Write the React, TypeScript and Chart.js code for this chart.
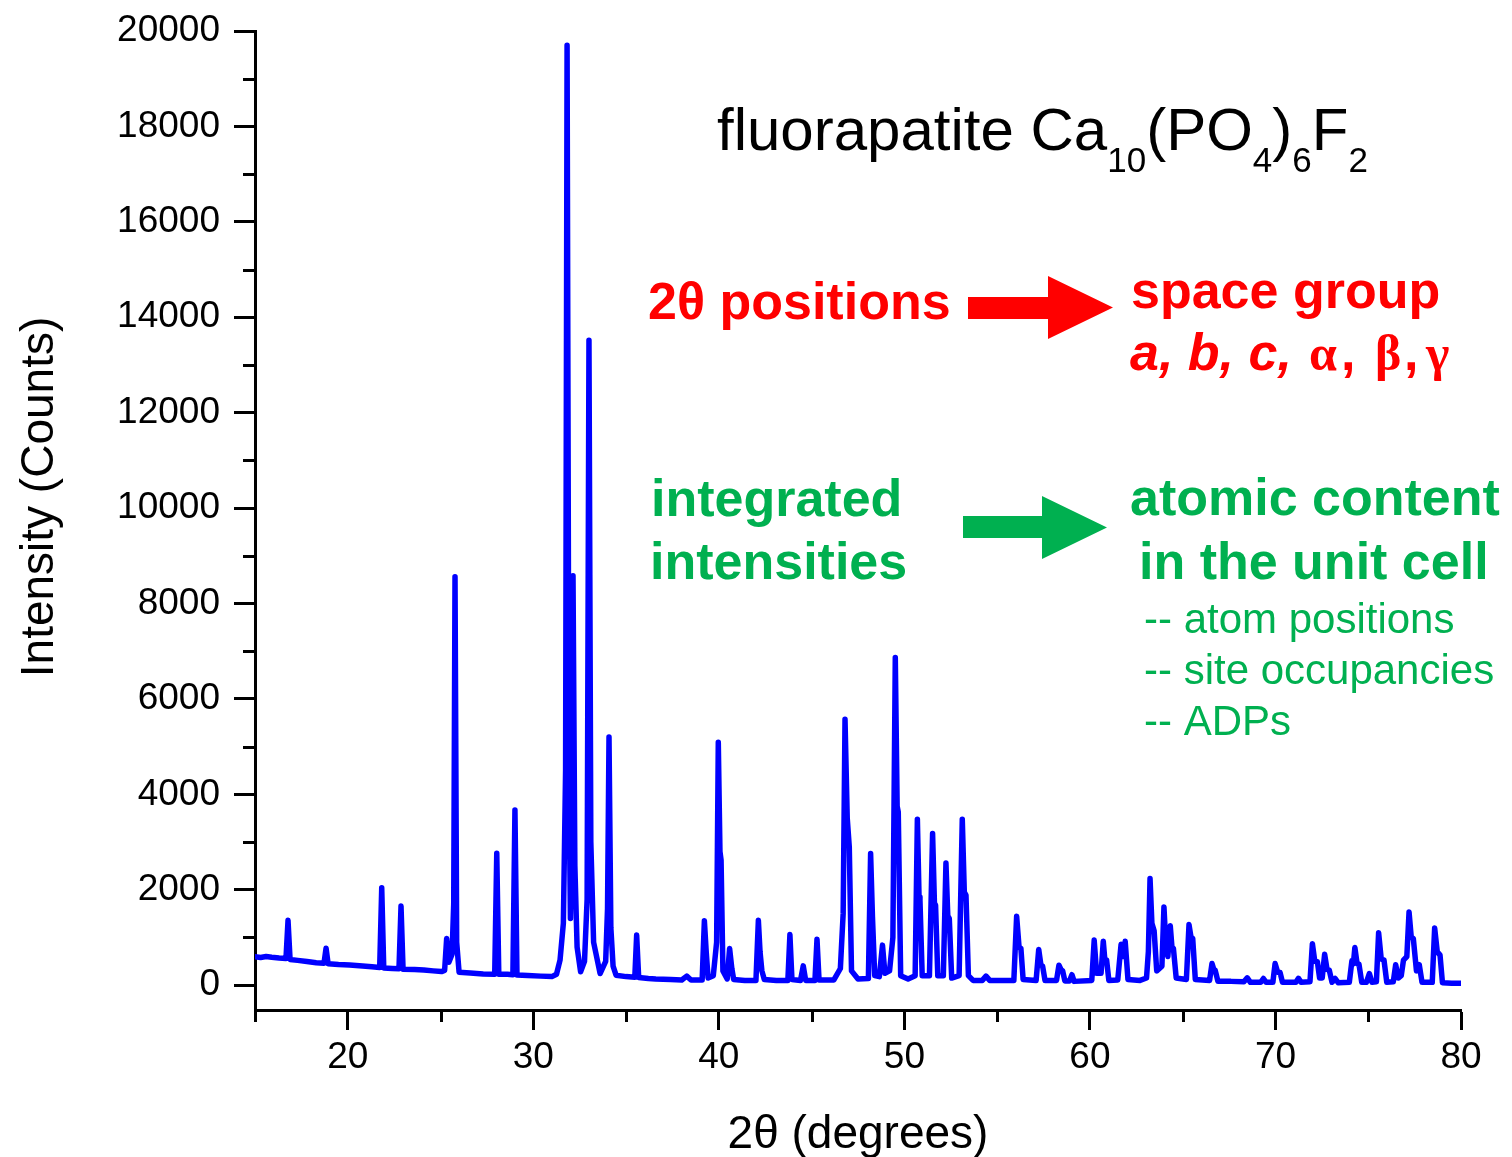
import { useEffect, useRef } from "react";
import { Chart, registerables } from "chart.js";

Chart.register(...registerables);

// Powder diffraction scan, [2θ (degrees), intensity (counts)]
const scanLowAngle: [number, number][] = [
  [15.0, 595], [15.3, 580], [15.6, 600], [15.9, 585], [16.3, 570], [16.67, 560],
  [16.78, 1360], [16.89, 540], [17.3, 520], [17.8, 495], [18.3, 470], [18.72, 460],
  [18.83, 775], [18.94, 450], [19.5, 435], [20.1, 425], [20.8, 400], [21.3, 385],
  [21.72, 370], [21.83, 2040], [21.94, 360], [22.4, 350], [22.76, 345], [22.87, 1660],
  [22.98, 335], [23.6, 330], [24.1, 320], [24.6, 300], [25.05, 285], [25.22, 310],
  [25.33, 980], [25.45, 480], [25.62, 650], [25.71, 1700], [25.78, 8560], [25.87, 900],
  [26.0, 270], [26.6, 255], [27.3, 235], [27.92, 230], [28.03, 2765], [28.14, 230],
  [28.6, 230], [28.9, 220], [29.01, 3670], [29.12, 215], [29.7, 205], [30.4, 190],
  [31.0, 180],
];

const scanMainPeaks: [number, number][] = [
  [31.25, 230], [31.44, 525], [31.62, 1300], [31.74, 4500], [31.82, 19700], [31.92, 4500],
  [32.0, 1400], [32.08, 4000], [32.14, 8580], [32.24, 2500], [32.36, 800], [32.55, 280],
  [32.76, 500], [32.9, 1800], [33.0, 13520], [33.1, 3000], [33.25, 900], [33.6, 245],
  [33.9, 500], [34.0, 1600], [34.08, 5200], [34.18, 1200], [34.3, 400], [34.46, 210],
  [35.0, 180], [35.47, 165], [35.57, 1050], [35.68, 160], [36.2, 140],
];

const scanMidAngle: [number, number][] = [
  [36.6, 130], [37.4, 120], [38.0, 110], [38.27, 190], [38.5, 110], [39.1, 110],
  [39.22, 1350], [39.32, 700], [39.42, 150], [39.7, 200], [39.88, 900], [39.97, 5090],
  [40.06, 2800], [40.12, 2620], [40.22, 300], [40.45, 130], [40.58, 770], [40.7, 350],
  [40.8, 120], [41.4, 100], [42.0, 100], [42.13, 1360], [42.22, 700], [42.32, 300],
  [42.45, 120], [43.1, 100], [43.72, 100], [43.83, 1060], [43.94, 120], [44.4, 100],
  [44.55, 405], [44.68, 100], [45.18, 100], [45.29, 965], [45.4, 110], [46.2, 110],
  [46.55, 350], [46.7, 1500], [46.8, 5575], [46.92, 3500], [47.03, 2900], [47.15, 300],
  [47.5, 130], [48.06, 140], [48.18, 2760], [48.28, 1430], [48.4, 200], [48.65, 180],
  [48.82, 840], [48.95, 250], [49.2, 300], [49.38, 1000], [49.51, 6870], [49.61, 3750],
  [49.67, 3630], [49.8, 200], [50.2, 130], [50.58, 200], [50.7, 3480], [50.79, 1850],
  [50.84, 1780], [50.96, 200], [51.35, 200], [51.52, 3180], [51.62, 1720], [51.68, 1680],
  [51.8, 200], [52.1, 200], [52.24, 2560], [52.34, 1450], [52.42, 1400], [52.55, 150],
  [52.95, 200], [53.12, 3480], [53.23, 1950], [53.32, 1890], [53.45, 200], [53.7, 100],
  [54.2, 100], [54.4, 190], [54.6, 100], [55.5, 100],
];

const scanHighAngle: [number, number][] = [
  [55.9, 100], [56.05, 1446], [56.18, 800], [56.28, 770], [56.4, 120], [57.1, 100],
  [57.24, 750], [57.36, 420], [57.45, 400], [57.58, 100], [58.2, 100], [58.33, 420],
  [58.45, 320], [58.53, 300], [58.65, 90], [58.9, 90], [59.03, 220], [59.15, 80],
  [60.1, 100], [60.23, 945], [60.36, 250], [60.6, 250], [60.72, 920], [60.8, 550],
  [60.9, 525], [61.02, 100], [61.5, 110], [61.68, 860], [61.8, 600], [61.9, 920],
  [62.05, 120], [62.7, 100], [63.05, 150], [63.15, 700], [63.24, 2235], [63.34, 1300],
  [63.46, 1140], [63.6, 300], [63.88, 400], [63.99, 1640], [64.1, 800], [64.2, 600],
  [64.33, 1245], [64.42, 800], [64.5, 770], [64.65, 150], [65.2, 120], [65.34, 1270],
  [65.45, 1000], [65.54, 980], [65.68, 120], [66.45, 100], [66.58, 455], [66.68, 330],
  [66.75, 315], [66.9, 80], [67.6, 80], [68.3, 70], [68.48, 155], [68.65, 60],
  [69.2, 60], [69.35, 140], [69.5, 60], [69.86, 60], [69.98, 455], [70.12, 270],
  [70.25, 265], [70.38, 60], [71.1, 60], [71.24, 145], [71.38, 60], [71.86, 70],
  [71.99, 870], [72.12, 500], [72.26, 490], [72.38, 150], [72.52, 150], [72.65, 650],
  [72.78, 330], [72.9, 315], [73.05, 60], [73.22, 140], [73.38, 50], [73.98, 60],
  [74.12, 510], [74.2, 450], [74.28, 790], [74.4, 450], [74.5, 440], [74.65, 60],
  [74.9, 60], [75.06, 245], [75.2, 60], [75.44, 70], [75.56, 1100], [75.7, 550],
  [75.85, 525], [76.0, 60], [76.35, 70], [76.48, 430], [76.62, 150], [76.78, 200],
  [76.9, 525], [77.08, 600], [77.2, 1535], [77.32, 1000], [77.43, 980], [77.6, 300],
  [77.75, 430], [77.9, 60], [78.45, 60], [78.58, 1200], [78.72, 700], [78.87, 630],
  [79.0, 50], [79.5, 40], [80.0, 40],
];

const xMajorTicks = [20, 30, 40, 50, 60, 70, 80];
const xMinorTicks = [15, 25, 35, 45, 55, 65, 75];
const yMajorTicks = [0, 2000, 4000, 6000, 8000, 10000, 12000, 14000, 16000, 18000, 20000];
const yMinorTicks = [1000, 3000, 5000, 7000, 9000, 11000, 13000, 15000, 17000, 19000];

const SANS = "'Liberation Sans', Arial, sans-serif";
const SERIF = "'Liberation Serif', 'Times New Roman', serif";
const RED = "#FF0000";
const GREEN = "#00B050";

type Run = { text: string; font: string; dy: number };

function drawRuns(ctx: CanvasRenderingContext2D, x: number, y: number, runs: Run[]) {
  let cx = x;
  for (const r of runs) {
    ctx.font = r.font;
    ctx.fillText(r.text, cx, y + r.dy);
    cx += ctx.measureText(r.text).width;
  }
}

function drawArrow(
  ctx: CanvasRenderingContext2D,
  x0: number, shaftTop: number, shaftBottom: number,
  headX: number, headTop: number, headBottom: number, tipX: number, color: string
) {
  const tipY = (headTop + headBottom) / 2;
  ctx.fillStyle = color;
  ctx.beginPath();
  ctx.moveTo(x0, shaftTop);
  ctx.lineTo(headX, shaftTop);
  ctx.lineTo(headX, headTop);
  ctx.lineTo(tipX, tipY);
  ctx.lineTo(headX, headBottom);
  ctx.lineTo(headX, shaftBottom);
  ctx.lineTo(x0, shaftBottom);
  ctx.closePath();
  ctx.fill();
}

const minorTicksPlugin = {
  id: "minorTicks",
  afterDraw(chart: any) {
    const { ctx, chartArea, scales } = chart;
    ctx.save();
    ctx.strokeStyle = "#000";
    ctx.lineWidth = 3;
    ctx.beginPath();
    for (const v of xMinorTicks) {
      const px = Math.round(scales.x.getPixelForValue(v)) + 0.5;
      ctx.moveTo(px, chartArea.bottom);
      ctx.lineTo(px, chartArea.bottom + 12);
    }
    for (const v of yMinorTicks) {
      const py = Math.round(scales.y.getPixelForValue(v)) + 0.5;
      ctx.moveTo(chartArea.left - 12, py);
      ctx.lineTo(chartArea.left, py);
    }
    // y axis line continues slightly below the x axis
    ctx.moveTo(chartArea.left + 0.5, chartArea.bottom);
    ctx.lineTo(chartArea.left + 0.5, chartArea.bottom + 11);
    ctx.stroke();
    ctx.restore();
  },
};

const labelsPlugin = {
  id: "labels",
  afterDraw(chart: any) {
    const { ctx } = chart;
    ctx.save();
    ctx.textAlign = "left";
    ctx.textBaseline = "alphabetic";

    // axis titles
    ctx.fillStyle = "#000";
    ctx.font = `46px ${SANS}`;
    ctx.textAlign = "center";
    ctx.fillText("2θ (degrees)", 858, 1148);
    ctx.save();
    ctx.translate(53, 497);
    ctx.rotate(-Math.PI / 2);
    ctx.fillText("Intensity (Counts)", 0, 0);
    ctx.restore();
    ctx.textAlign = "left";

    // compound name
    const big = `60px ${SANS}`;
    const sub = `35px ${SANS}`;
    drawRuns(ctx, 717, 150, [
      { text: "fluorapatite Ca", font: big, dy: 0 },
      { text: "10", font: sub, dy: 22 },
      { text: "(PO", font: big, dy: 0 },
      { text: "4", font: sub, dy: 22 },
      { text: ")", font: big, dy: 0 },
      { text: "6", font: sub, dy: 22 },
      { text: "F", font: big, dy: 0 },
      { text: "2", font: sub, dy: 22 },
    ]);

    // peak positions -> lattice
    const bold = `bold 52px ${SANS}`;
    ctx.fillStyle = RED;
    ctx.font = bold;
    ctx.fillText("2θ positions", 648, 319);
    ctx.fillText("space group", 1131, 308);
    ctx.font = `italic bold 52px ${SANS}`;
    ctx.fillText("a, b, c,", 1130, 370);
    ctx.font = `bold 50px ${SERIF}`;
    ctx.fillText("α", 1309, 370);
    ctx.fillText("β", 1375, 370);
    ctx.fillText("γ", 1426, 370);
    ctx.font = bold;
    ctx.fillText(",", 1341, 370);
    ctx.fillText(",", 1404, 370);
    drawArrow(ctx, 968, 297, 319, 1048, 276, 339, 1113, RED);

    // intensities -> atomic content
    ctx.fillStyle = GREEN;
    ctx.font = bold;
    ctx.fillText("integrated", 651, 516);
    ctx.fillText("intensities", 650, 579);
    ctx.fillText("atomic content", 1130, 515);
    ctx.fillText("in the unit cell", 1139, 579);
    ctx.font = `42px ${SANS}`;
    ctx.fillText("-- atom positions", 1144, 633);
    ctx.fillText("-- site occupancies", 1144, 684);
    ctx.fillText("-- ADPs", 1144, 735);
    drawArrow(ctx, 963, 516, 538, 1042, 496, 559, 1107, GREEN);

    ctx.restore();
  },
};

export default function App() {
  const canvasRef = useRef<HTMLCanvasElement | null>(null);

  useEffect(() => {
    const canvas = canvasRef.current;
    if (!canvas) return;
    const points = [...scanLowAngle, ...scanMainPeaks, ...scanMidAngle, ...scanHighAngle].map(
      ([x, y]) => ({ x, y })
    );
    const tickFont = { family: SANS, size: 37 };
    const chart = new Chart(canvas, {
      type: "line",
      data: {
        datasets: [
          {
            data: points,
            borderColor: "#0000FF",
            borderWidth: 5.5,
            borderJoinStyle: "round",
            borderCapStyle: "round",
            pointRadius: 0,
            tension: 0,
            fill: false,
          },
        ],
      },
      options: {
        animation: false,
        responsive: false,
        devicePixelRatio: 1,
        events: [],
        layout: { padding: { left: 0, top: 31, right: 51, bottom: 0 } },
        plugins: { legend: { display: false }, tooltip: { enabled: false }, title: { display: false } },
        scales: {
          x: {
            type: "linear",
            min: 15,
            max: 80,
            afterBuildTicks: (scale: any) => {
              scale.ticks = xMajorTicks.map((value) => ({ value }));
            },
            afterFit: (scale: any) => {
              scale.height = 147;
              scale.paddingLeft = 0;
              scale.paddingRight = 0;
            },
            grid: {
              drawOnChartArea: false,
              drawTicks: true,
              tickLength: 20,
              tickWidth: 3,
              tickColor: "#000",
            },
            border: { display: true, width: 3, color: "#000" },
            ticks: {
              autoSkip: false,
              maxRotation: 0,
              padding: 6,
              color: "#000",
              font: tickFont,
              callback: (v: any) => String(v),
            },
          },
          y: {
            type: "linear",
            min: -520,
            max: 20000,
            afterBuildTicks: (scale: any) => {
              scale.ticks = yMajorTicks.map((value) => ({ value }));
            },
            afterFit: (scale: any) => {
              scale.width = 255;
              scale.paddingTop = 0;
              scale.paddingBottom = 0;
            },
            grid: {
              drawOnChartArea: false,
              drawTicks: true,
              tickLength: 21,
              tickWidth: 3,
              tickColor: "#000",
            },
            border: { display: true, width: 3, color: "#000" },
            ticks: {
              autoSkip: false,
              padding: 14,
              color: "#000",
              font: tickFont,
              callback: (v: any) => String(v),
            },
          },
        },
      } as any,
      plugins: [minorTicksPlugin, labelsPlugin],
    });
    return () => chart.destroy();
  }, []);

  return (
    <div style={{ position: "absolute", left: 0, top: 0, width: 1512, height: 1157, background: "#fff" }}>
      <canvas ref={canvasRef} width={1512} height={1157} style={{ width: 1512, height: 1157, display: "block" }} />
    </div>
  );
}
